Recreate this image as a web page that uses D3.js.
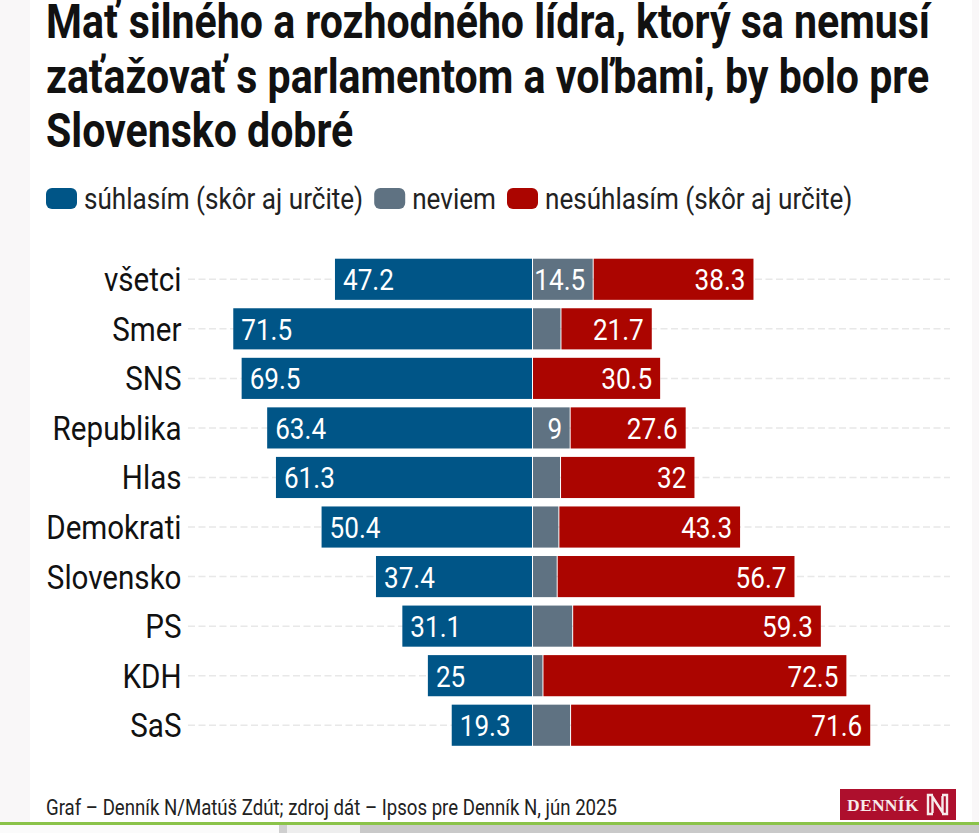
<!DOCTYPE html>
<html>
<head>
<meta charset="utf-8">
<script src="https://cdn.jsdelivr.net/npm/d3@7"></script>
<style>
  html, body { margin: 0; padding: 0; background: #fff; overflow: hidden; }
  text { font-family: Roboto, sans-serif; }
</style>
</head>
<body>
<svg id="chart" width="979" height="833"></svg>
<script>
const titleLines = [
  'Mať silného a rozhodného lídra, ktorý sa nemusí',
  'zaťažovať s parlamentom a voľbami, by bolo pre',
  'Slovensko dobré'
];
const categories = ['všetci', 'Smer', 'SNS', 'Republika', 'Hlas', 'Demokrati', 'Slovensko', 'PS', 'KDH', 'SaS'];
const agree = [47.2, 71.5, 69.5, 63.4, 61.3, 50.4, 37.4, 31.1, 25, 19.3];
const unsure = [14.5, 6.8, 0, 9, 6.7, 6.3, 5.9, 9.6, 2.5, 9.1];
const disagree = [38.3, 21.7, 30.5, 27.6, 32, 43.3, 56.7, 59.3, 72.5, 71.6];
const unsureLabels = ['14.5', '', '', '9', '', '', '', '', '', ''];
const legendLabels = ['súhlasím (skôr aj určite)', 'neviem', 'nesúhlasím (skôr aj určite)'];
const legendColors = ['#005587', '#5f7282', '#ab0500'];
const source = 'Graf – Denník N/Matúš Zdút; zdroj dát – Ipsos pre Denník N, jún 2025';

const narrow = 0.87;
const svg = d3.select('#chart');

// page strips around the chart card
svg.append('rect').attr('width', 979).attr('height', 833).attr('fill', '#f9f7f8');
svg.append('rect').attr('x', 30).attr('width', 942).attr('height', 822).attr('fill', '#fff');
svg.append('rect').attr('y', 822).attr('width', 979).attr('height', 3).attr('fill', '#8bc34a');
svg.append('rect').attr('y', 825).attr('width', 979).attr('height', 8).attr('fill', '#fbfbfb');
svg.append('rect').attr('x', 279).attr('y', 825).attr('width', 700).attr('height', 8).attr('fill', '#cfcfcf');
svg.append('rect').attr('x', 287).attr('y', 825).attr('width', 692).attr('height', 8).attr('fill', '#eeeeee');
svg.append('rect').attr('x', 360).attr('y', 825).attr('width', 619).attr('height', 8).attr('fill', '#c9c9c9');

function label(parent, x, y, str, size, anchor, fill, weight) {
  return parent.append('text')
    .attr('transform', `translate(${x},${y}) scale(${narrow},1)`)
    .attr('text-anchor', anchor || 'start')
    .attr('font-size', size)
    .attr('font-weight', weight || 400)
    .attr('fill', fill || '#111')
    .text(str);
}

titleLines.forEach((line, i) => {
  label(svg, 46, 38 + i * 54.5, line, 47.2, 'start', '#111', 700);
});

// legend
let legendX = 46;
legendLabels.forEach((str, i) => {
  svg.append('rect')
    .attr('x', legendX).attr('y', 188)
    .attr('width', 31).attr('height', 21)
    .attr('rx', 6)
    .attr('fill', legendColors[i]);
  const t = label(svg, legendX + 38, 209, str, 30, 'start', '#222');
  legendX += 38 + t.node().getComputedTextLength() * narrow + 11;
});

// scales
const x = d3.scaleLinear().domain([0, 100]).range([0, 418.5]);
const centre = 532.5;
const y = d3.scaleBand().domain(categories).range([254.5, 750]).paddingInner(0.17).paddingOuter(0.085);

const rows = svg.selectAll('g.row')
  .data(categories)
  .enter().append('g')
  .attr('class', 'row');

// dashed guide behind the bars
rows.append('line')
  .attr('x1', 188).attr('x2', 950)
  .attr('y1', d => y(d) + y.bandwidth() / 2)
  .attr('y2', d => y(d) + y.bandwidth() / 2)
  .attr('stroke', '#e8e8e8')
  .attr('stroke-width', 1.5)
  .attr('stroke-dasharray', '7 3.5');

rows.each(function(d, i) {
  const row = d3.select(this);
  const mid = y(d) + y.bandwidth() / 2 + 11;

  label(row, 181.5, mid + 1, d, 34, 'end', '#111');

  row.append('rect')
    .attr('x', centre - x(agree[i]))
    .attr('y', y(d))
    .attr('width', x(agree[i]) - 0.5)
    .attr('height', y.bandwidth())
    .attr('fill', legendColors[0]);
  row.append('rect')
    .attr('x', centre + 0.5)
    .attr('y', y(d))
    .attr('width', Math.max(0, x(unsure[i]) - 1))
    .attr('height', y.bandwidth())
    .attr('fill', legendColors[1]);
  row.append('rect')
    .attr('x', centre + x(unsure[i]) + 0.5)
    .attr('y', y(d))
    .attr('width', x(disagree[i]) - 0.5)
    .attr('height', y.bandwidth())
    .attr('fill', legendColors[2]);

  label(row, centre - x(agree[i]) + 8, mid, String(agree[i]), 30, 'start', '#fff');
  if (unsureLabels[i]) {
    label(row, centre + x(unsure[i]) - 8, mid, unsureLabels[i], 30, 'end', '#fff');
  }
  label(row, centre + x(unsure[i]) + x(disagree[i]) - 8, mid, String(disagree[i]), 30, 'end', '#fff');
});

label(svg, 46, 815, source, 21.4, 'start', '#222');

// logo
const logo = svg.append('g').attr('transform', 'translate(840,789)');
logo.append('rect').attr('width', 116).attr('height', 31).attr('fill', '#ae0f2d');
logo.append('text')
  .attr('x', 7).attr('y', 21.5)
  .attr('font-size', 17.5)
  .attr('font-weight', 700)
  .attr('letter-spacing', 0.3)
  .attr('fill', '#f7eaea')
  .style('font-family', '"Liberation Serif", serif')
  .text('DENNÍK');
logo.append('path')
  .attr('d', 'M93 6H88V25H93M102 6H107V25H102M92 7L103 24M92.5 7V24M102.5 7V24')
  .attr('fill', 'none')
  .attr('stroke', '#f7eaea')
  .attr('stroke-width', 2.4);
</script>
</body>
</html>
